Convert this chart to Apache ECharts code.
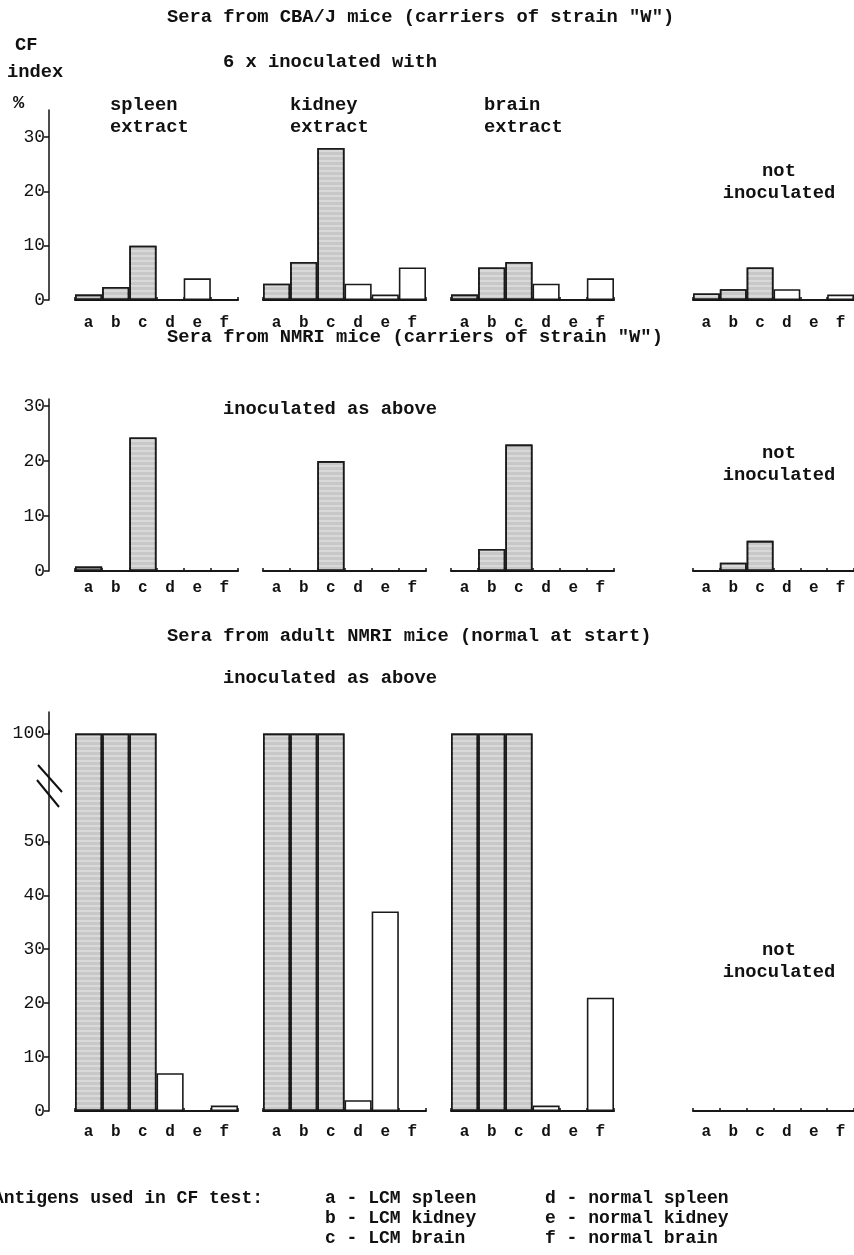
<!DOCTYPE html>
<html><head><meta charset="utf-8">
<script src="https://cdn.jsdelivr.net/npm/echarts@6/dist/echarts.min.js"></script>
<style>html,body{margin:0;padding:0;background:#fff}#c{width:854px;height:1255px}</style>
</head><body><div id="c"></div><script>
// ---------- data ----------
const categories = ['a', 'b', 'c', 'd', 'e', 'f'];
// Panel 1: Sera from CBA/J mice
const cbaSpleen = [1, 2.4, 10, 0, 4, 0];
const cbaKidney = [3, 7, 28, 3, 1, 6];
const cbaBrain  = [1, 6, 7, 3, 0, 4];
const cbaNone   = [1.2, 2, 6, 2, 0, 1];
// Panel 2: Sera from NMRI mice
const nmriSpleen = [0.8, 0, 24.3, 0, 0, 0];
const nmriKidney = [0, 0, 20, 0, 0, 0];
const nmriBrain  = [0, 4, 23, 0, 0, 0];
const nmriNone   = [0, 1.5, 5.5, 0, 0, 0];
// Panel 3: Sera from adult NMRI mice
const adultSpleen = [100, 100, 100, 7, 0, 1];
const adultKidney = [100, 100, 100, 2, 37, 0];
const adultBrain  = [100, 100, 100, 1, 0, 21];
const adultNone   = [0, 0, 0, 0, 0, 0];
const yTicksSmall = [0, 10, 20, 30];
const yTicksBig = [0, 10, 20, 30, 40, 50, 100];

// ---------- layout ----------
const FONT = '"Liberation Mono", "DejaVu Sans Mono", monospace';
const groupLefts = [75, 263, 451, 693];
const groupWidth = 163;
const panels = [
  { top: 110, height: 190, max: 35, ticks: yTicksSmall, labelMargin: 15,
    data: [cbaSpleen, cbaKidney, cbaBrain, cbaNone] },
  { top: 399, height: 172, max: 31.3, ticks: yTicksSmall, labelMargin: 9,
    data: [nmriSpleen, nmriKidney, nmriBrain, nmriNone] },
  { top: 712, height: 399, max: 104, ticks: yTicksBig, labelMargin: 13, brk: true,
    data: [adultSpleen, adultKidney, adultBrain, adultNone] }
];

const grayStyle = {
  color: '#c8c8c8', borderColor: '#1a1a1a', borderWidth: 1.6,
  decal: { symbol: 'rect', symbolSize: 1, color: 'rgba(255,255,255,0.3)',
           dashArrayX: [1, 0], dashArrayY: [2, 3], rotation: 0 }
};
const whiteStyle = { color: '#ffffff', borderColor: '#1a1a1a', borderWidth: 1.6 };

const grid = [], xAxis = [], yAxis = [], series = [];
panels.forEach((p, pi) => {
  p.data.forEach((vals, gi) => {
    const idx = grid.length;
    grid.push({ left: groupLefts[gi], width: groupWidth, top: p.top, height: p.height });
    xAxis.push({
      type: 'category', gridIndex: idx, data: categories,
      axisLine: { lineStyle: { color: '#111', width: 2 } },
      axisTick: { show: true, inside: true, length: 3, lineStyle: { color: '#111', width: 1.5 } },
      axisLabel: { color: '#111', fontFamily: FONT, fontWeight: 'bold', fontSize: 16, margin: p.labelMargin }
    });
    const y = {
      type: 'value', gridIndex: idx, min: 0, max: p.max,
      show: gi === 0, offset: 26,
      splitLine: { show: false },
      axisLine: { show: true, lineStyle: { color: '#111', width: 1.5 } },
      axisTick: { show: true, length: 5, customValues: p.ticks, lineStyle: { color: '#111', width: 1.5 } },
      axisLabel: { color: '#111', fontFamily: FONT, fontSize: 18, margin: 4, customValues: p.ticks }
    };
    if (p.brk) {
      y.breaks = [{ start: 50, end: 100, gap: 20 }];
      y.breakArea = { show: false };
    }
    yAxis.push(y);
    series.push({
      type: 'bar', xAxisIndex: idx, yAxisIndex: idx, barCategoryGap: '0%',
      silent: true, animation: false,
      data: vals.map((v, i) => ({ value: v, itemStyle: i < 3 ? grayStyle : whiteStyle }))
    });
  });
});

function txt(x, y, s, opt) {
  return {
    type: 'text', x: x, y: y,
    style: Object.assign({ text: s, fill: '#111', font: 'bold 18.8px ' + FONT,
      textAlign: 'left', textVerticalAlign: 'middle' }, opt || {})
  };
}
const F18 = 'bold 18px ' + FONT;
const graphic = [
  txt(167, 17, 'Sera from CBA/J mice (carriers of strain "W")'),
  txt(15, 45, 'CF'), txt(7, 72, 'index'), txt(13, 103, '%'),
  txt(223, 62, '6 x inoculated with'),
  txt(110, 105, 'spleen'), txt(110, 127, 'extract'),
  txt(290, 105, 'kidney'), txt(290, 127, 'extract'),
  txt(484, 105, 'brain'), txt(484, 127, 'extract'),
  txt(779, 171, 'not', { textAlign: 'center' }), txt(779, 193, 'inoculated', { textAlign: 'center' }),
  txt(167, 337, 'Sera from NMRI mice (carriers of strain "W")'),
  txt(223, 409, 'inoculated as above'),
  txt(779, 453, 'not', { textAlign: 'center' }), txt(779, 475, 'inoculated', { textAlign: 'center' }),
  txt(167, 636, 'Sera from adult NMRI mice (normal at start)'),
  txt(223, 678, 'inoculated as above'),
  txt(779, 950, 'not', { textAlign: 'center' }), txt(779, 972, 'inoculated', { textAlign: 'center' }),
  txt(263, 1198, 'Antigens used in CF test:', { textAlign: 'right', font: F18 }),
  txt(325, 1198, 'a - LCM spleen', { font: F18 }),
  txt(325, 1218, 'b - LCM kidney', { font: F18 }),
  txt(325, 1238, 'c - LCM brain', { font: F18 }),
  txt(545, 1198, 'd - normal spleen', { font: F18 }),
  txt(545, 1218, 'e - normal kidney', { font: F18 }),
  txt(545, 1238, 'f - normal brain', { font: F18 }),
  // continuous axis line through the break, and the break mark
  { type: 'line', shape: { x1: 49, y1: 730, x2: 49, y2: 845 }, style: { stroke: '#111', lineWidth: 1.5 } },
  { type: 'line', shape: { x1: 38, y1: 765, x2: 62, y2: 792 }, style: { stroke: '#111', lineWidth: 2 } },
  { type: 'line', shape: { x1: 37, y1: 780, x2: 59, y2: 807 }, style: { stroke: '#111', lineWidth: 2 } }
];

const chart = echarts.init(document.getElementById('c'), null, { renderer: 'canvas' });
chart.setOption({ animation: false, backgroundColor: '#fff', grid, xAxis, yAxis, series, graphic });
</script></body></html>
